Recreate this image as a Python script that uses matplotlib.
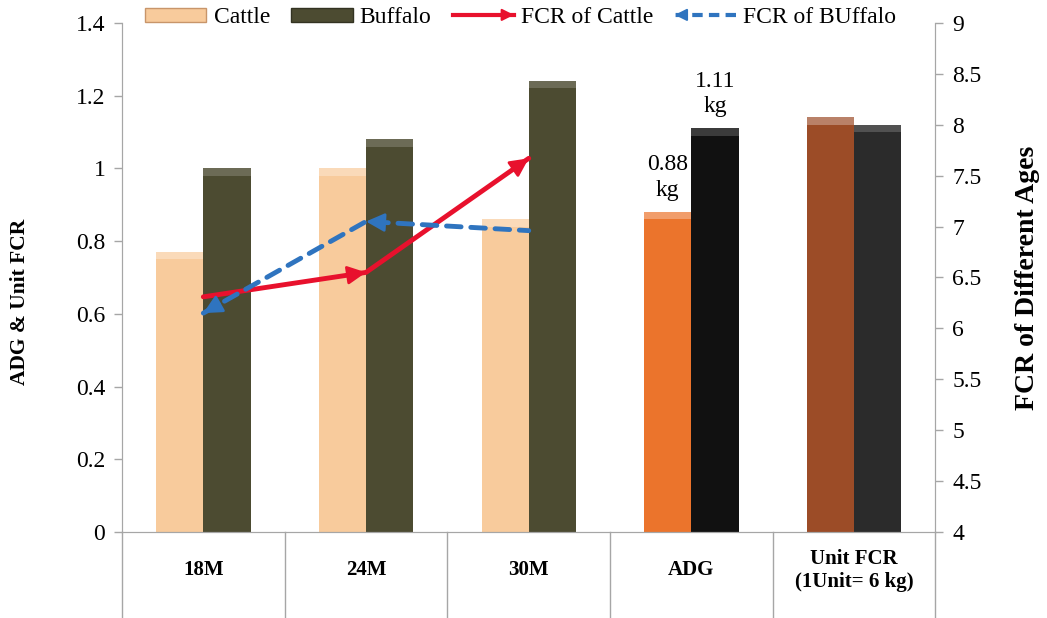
import numpy as np
import matplotlib
matplotlib.use("Agg")
import matplotlib.pyplot as plt
from matplotlib.patches import Patch, FancyArrowPatch
from matplotlib.lines import Line2D
from matplotlib.legend_handler import HandlerBase
import matplotlib.transforms as mtransforms

plt.rcParams['font.family'] = ['Liberation Serif', 'DejaVu Serif']

# data
categories = ["18M", "24M", "30M", "ADG", "Unit FCR\n(1Unit= 6 kg)"]
cattle = [0.77, 1.00, 0.86, 0.88, 1.14]
buffalo = [1.00, 1.08, 1.24, 1.11, 1.12]
fcr_cattle = [6.31, 6.55, 7.67]
fcr_buffalo = [6.15, 7.05, 6.96]
left_ticks = [0, 0.2, 0.4, 0.6, 0.8, 1.0, 1.2, 1.4]
left_labels = ["0", "0.2", "0.4", "0.6", "0.8", "1", "1.2", "1.4"]
right_ticks = [4, 4.5, 5, 5.5, 6, 6.5, 7, 7.5, 8, 8.5, 9]
right_labels = ["4", "4.5", "5", "5.5", "6", "6.5", "7", "7.5", "8", "8.5", "9"]
adg_notes = ["0.88\nkg", "1.11\nkg"]

cattle_colors = ["#F8CB9C", "#F8CB9C", "#F8CB9C", "#EB742C", "#9C4C27"]
buffalo_colors = ["#4C4B31", "#4C4B31", "#4C4B31", "#111111", "#2B2B2B"]
red = "#E8112D"
blue = "#2F74BF"
grey = "#A6A6A6"

fig = plt.figure(figsize=(10.47, 6.18), dpi=100)
ax = fig.add_axes([0.1165, 0.139, 0.777, 0.824])
ax2 = ax.twinx()

x = np.arange(len(categories))
w = 0.29
ax.bar(x - w / 2, cattle, w, color=cattle_colors, edgecolor="none", zorder=2)
ax.bar(x + w / 2, buffalo, w, color=buffalo_colors, edgecolor="none", zorder=2)
# light top band for bevel look
ax.bar(x - w / 2, [0.02] * 5, w, bottom=np.array(cattle) - 0.02,
       color="white", alpha=0.3, edgecolor="none", zorder=3)
ax.bar(x + w / 2, [0.02] * 5, w, bottom=np.array(buffalo) - 0.02,
       color="white", alpha=0.18, edgecolor="none", zorder=3)

ax.set_xlim(-0.5, 4.5)
ax.set_ylim(0, 1.4)
ax.set_yticks(left_ticks)
ax.set_yticklabels(left_labels, fontsize=17)
ax.set_xticks([])
ax2.set_ylim(4, 9)
ax2.set_yticks(right_ticks)
ax2.set_yticklabels(right_labels, fontsize=17)

for a in (ax, ax2):
    a.spines["top"].set_visible(False)
    for s in ("left", "right", "bottom"):
        a.spines[s].set_color(grey)
    a.tick_params(axis="y", color=grey, length=6, width=1, pad=6)

ax.set_ylabel("ADG & Unit FCR", fontsize=15.5, fontweight="bold")
ax.yaxis.set_label_coords(-0.113, 0.452)
ax2.set_ylabel("FCR of Different Ages", fontsize=20, fontweight="bold", labelpad=24)

# category table below the axis
trans = mtransforms.blended_transform_factory(ax.transData, ax.transAxes)
for b in np.arange(-0.5, 5.0, 1.0):
    ax.plot([b, b], [0, -0.17], color=grey, lw=1, transform=trans, clip_on=False)
for xi, c in zip(x, categories):
    ax.text(xi, -0.075, c, transform=trans, ha="center", va="center",
            fontsize=15, fontweight="bold", linespacing=1.2)

# ADG labels
ax.text(x[3] - w / 2, cattle[3] + 0.03, adg_notes[0], ha="center", va="bottom",
        fontsize=17, linespacing=1.3)
ax.text(x[3] + w / 2, buffalo[3] + 0.03, adg_notes[1], ha="center", va="bottom",
        fontsize=17, linespacing=1.3)

# FCR lines
xl = x[:3]
ax2.plot(xl, fcr_cattle, color=red, lw=3.5, solid_capstyle="round", zorder=4)
ax2.plot(xl, fcr_buffalo, color=blue, lw=3.5, ls=(0, (3, 2)), dash_capstyle="round", zorder=4)


def heads(axis, xs, ys, color):
    for i in range(len(xs) - 1):
        x0, y0, x1, y1 = xs[i], ys[i], xs[i + 1], ys[i + 1]
        axis.annotate("", xy=(x1, y1), xytext=(x0 + 0.9 * (x1 - x0), y0 + 0.9 * (y1 - y0)),
                      arrowprops=dict(arrowstyle="-|>", color=color, lw=2,
                                      mutation_scale=28, shrinkA=0, shrinkB=0),
                      zorder=5)


heads(ax2, list(xl), fcr_cattle, red)
heads(ax2, list(xl[::-1]), fcr_buffalo[::-1], blue)


class ArrowHandler(HandlerBase):
    def __init__(self, color, ls, reverse):
        super().__init__()
        self.color, self.ls, self.reverse = color, ls, reverse

    def create_artists(self, legend, orig, xd, yd, width, height, fontsize, trans):
        y = height / 2 - yd
        a, b = -xd, width - xd
        if self.reverse:
            a, b = b, a
        line = Line2D([a, b], [y, y], color=self.color, lw=3, ls=self.ls, transform=trans)
        head = FancyArrowPatch((a + 0.8 * (b - a), y), (b, y), arrowstyle="-|>",
                               color=self.color, lw=1.5, mutation_scale=18,
                               shrinkA=0, shrinkB=0, transform=trans)
        return [line, head]


h_red = Line2D([], [], color=red)
h_blue = Line2D([], [], color=blue)
handles = [Patch(facecolor="#F8CB9C", edgecolor="#C8956A"),
           Patch(facecolor="#4C4B31", edgecolor="#333322"), h_red, h_blue]
labels = ["Cattle", "Buffalo", "FCR of Cattle", "FCR of BUffalo"]
ax.legend(handles, labels, loc="center", bbox_to_anchor=(0.49, 1.01), ncol=4,
          frameon=False, fontsize=17, handlelength=2.6, handleheight=0.5,
          handletextpad=0.3, columnspacing=0.9,
          handler_map={h_red: ArrowHandler(red, "-", False),
                       h_blue: ArrowHandler(blue, (0, (2.5, 1.5)), True)})

fig.savefig("out.png", dpi=100)
